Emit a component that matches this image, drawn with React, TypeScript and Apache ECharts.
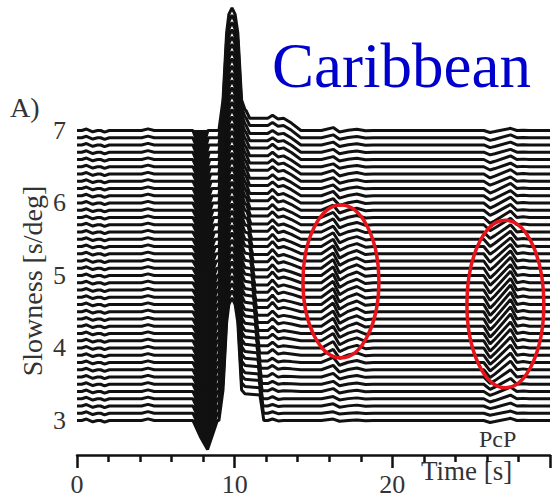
import React, { useEffect, useRef } from "react";
import * as echarts from "echarts";

// Slowness of each trace (s/deg), bottom to top
const slowness = [
  3.0, 3.1, 3.2, 3.3, 3.4, 3.5, 3.6, 3.7, 3.8, 3.9,
  4.0, 4.1, 4.2, 4.3, 4.4, 4.5, 4.6, 4.7, 4.8, 4.9,
  5.0, 5.1, 5.2, 5.3, 5.4, 5.5, 5.6, 5.7, 5.8, 5.9,
  6.0, 6.1, 6.2, 6.3, 6.4, 6.5, 6.6, 6.7, 6.8, 6.9, 7.0,
];
const yTicks = [3, 4, 5, 6, 7];
const xTicks = [0, 10, 20];

// Shared waveform pieces: [time s, amplitude in slowness units]
const earlyWiggle = [
  [0, 0], [0.3, 0], [0.6, 0.02], [1.0, -0.018], [1.3, 0], [1.5, 0], [1.75, -0.022],
  [2.05, 0], [4.1, 0], [4.5, 0.022], [4.9, 0], [7.35, 0],
];
const mainSpike = [
  [9.0, 0], [9.26, 0.42], [9.49, 1.35], [9.63, 1.6], [9.83, 1.69],
  [10.03, 1.6], [10.2, 1.35], [10.44, 0.42],
];
const arrival1Shape = [[15.5, 0], [16.25, 1], [16.65, -0.55], [17.2, 0.05], [17.75, 0.4], [18.3, -0.1], [18.8, 0]];
const pcpShape = [[25.8, 0], [26.2, -0.9], [26.5, -0.5], [27.5, 1.0], [27.9, 0], [28.3, 0.1], [28.7, 0]];

// Per-trace values (same order as slowness)
const dipDepth = [
  0.40, 0.40, 0.40, 0.39, 0.39, 0.39, 0.38, 0.38, 0.38, 0.37,
  0.37, 0.37, 0.36, 0.36, 0.36, 0.35, 0.35, 0.35, 0.35, 0.34,
  0.34, 0.34, 0.33, 0.33, 0.33, 0.32, 0.32, 0.32, 0.32, 0.31,
  0.31, 0.31, 0.31, 0.30, 0.30, 0.30, 0.30, 0.30, 0.30, 0.30, 0.30,
];
const dipEnd = [
  8.90, 8.90, 8.90, 8.90, 8.90, 8.90, 8.90, 8.90, 8.90, 8.90,
  8.90, 8.90, 8.90, 8.90, 8.90, 8.90, 8.90, 8.90, 8.90, 8.90,
  8.90, 8.87, 8.84, 8.81, 8.78, 8.75, 8.72, 8.69, 8.66, 8.63,
  8.60, 8.57, 8.54, 8.51, 8.48, 8.45, 8.42, 8.39, 8.36, 8.33, 8.30,
];
const plateau = [
  0.37, 0.37, 0.37, 0.36, 0.36, 0.36, 0.35, 0.35, 0.35, 0.34,
  0.34, 0.34, 0.33, 0.33, 0.33, 0.32, 0.32, 0.32, 0.31, 0.31,
  0.31, 0.31, 0.30, 0.30, 0.30, 0.30, 0.30, 0.29, 0.29, 0.29,
  0.29, 0.29, 0.29, 0.29, 0.29, 0.29, 0.29, 0.29, 0.29, 0.29, 0.29,
];
const dropTime = [
  11.70, 11.68, 11.65, 11.62, 11.60, 11.57, 11.54, 11.50, 11.47, 11.44,
  11.40, 11.37, 11.34, 11.30, 11.27, 11.24, 11.20, 11.17, 11.14, 11.10,
  11.07, 11.04, 11.00, 10.97, 10.94, 10.90, 10.88, 10.86, 10.84, 10.82,
  10.80, 10.80, 10.80, 10.80, 10.80, 10.80, 10.80, 10.80, 10.80, 10.80, 10.80,
];
const coda = [
  0.00, 0.00, 0.00, 0.00, 0.01, 0.01, 0.01, 0.02, 0.02, 0.03,
  0.03, 0.04, 0.04, 0.05, 0.05, 0.06, 0.06, 0.07, 0.07, 0.08,
  0.08, 0.09, 0.09, 0.10, 0.10, 0.11, 0.11, 0.12, 0.12, 0.13,
  0.13, 0.14, 0.14, 0.15, 0.15, 0.15, 0.16, 0.16, 0.16, 0.17, 0.17,
];
const bump12 = [
  0.02, 0.02, 0.02, 0.03, 0.03, 0.03, 0.04, 0.04, 0.04, 0.05,
  0.05, 0.05, 0.06, 0.06, 0.06, 0.07, 0.07, 0.07, 0.07, 0.07,
  0.07, 0.07, 0.07, 0.07, 0.07, 0.07, 0.06, 0.06, 0.06, 0.06,
  0.06, 0.05, 0.05, 0.05, 0.05, 0.05, 0.05, 0.04, 0.04, 0.04, 0.04,
];
const arrival1 = [
  0.02, 0.02, 0.03, 0.03, 0.04, 0.04, 0.05, 0.06, 0.07, 0.08,
  0.09, 0.10, 0.10, 0.11, 0.11, 0.12, 0.12, 0.12, 0.12, 0.12,
  0.12, 0.12, 0.11, 0.11, 0.10, 0.09, 0.08, 0.08, 0.07, 0.07,
  0.06, 0.06, 0.05, 0.05, 0.05, 0.04, 0.04, 0.04, 0.04, 0.04, 0.04,
];
const pcpAmp = [
  0.03, 0.03, 0.04, 0.05, 0.06, 0.08, 0.10, 0.12, 0.13, 0.14,
  0.15, 0.16, 0.16, 0.17, 0.17, 0.17, 0.17, 0.17, 0.16, 0.16,
  0.15, 0.15, 0.14, 0.13, 0.12, 0.11, 0.10, 0.09, 0.09, 0.08,
  0.08, 0.07, 0.07, 0.06, 0.06, 0.05, 0.05, 0.04, 0.04, 0.04, 0.03,
];

// Annotation ellipses: [center time, center slowness, half-width s, half-height]
const ellipses = [
  [16.74, 4.917, 2.41, 1.055],
  [27.17, 4.607, 2.44, 1.155],
];

const FONT = "'Liberation Serif', 'Times New Roman', serif";
const DIP_START = 7.35;

function dipPoints(i: number): number[][] {
  const span = dipEnd[i] - DIP_START;
  return [
    [DIP_START, 0],
    [DIP_START + 0.3 * span, -0.55 * dipDepth[i]],
    [DIP_START + 0.6 * span, -dipDepth[i]],
    [dipEnd[i], 0],
  ];
}

function tracePoints(i: number): number[][] {
  const s = slowness[i];
  const pts: number[][] = [];
  const add = (t: number, a: number) => pts.push([t, s + a]);
  earlyWiggle.forEach(([t, a]) => add(t, a));
  dipPoints(i).slice(1).forEach(([t, a]) => add(t, a));
  mainSpike.forEach(([t, a]) => add(t, a));
  add(10.65, plateau[i]);
  add(Math.max(dropTime[i] - 0.1, 10.72), plateau[i] * 0.95);
  add(dropTime[i] + 0.15, coda[i]);
  add(12.1, coda[i]);
  add(12.4, coda[i] + bump12[i]);
  add(12.75, coda[i] - 0.3 * bump12[i]);
  add(13.1, coda[i]);
  add(13.6, coda[i] * 0.6);
  add(14.2, 0);
  arrival1Shape.forEach(([t, a]) => add(t, a * arrival1[i]));
  pcpShape.forEach(([t, a]) => add(t, a * pcpAmp[i]));
  add(30, 0);
  return pts;
}

export default function App() {
  const ref = useRef<HTMLDivElement>(null);
  useEffect(() => {
    if (!ref.current) return;
    const chart = echarts.init(ref.current, null, { renderer: "svg" });
    const lineSeries = slowness.map((s, i) => ({
      type: "line",
      data: tracePoints(i),
      showSymbol: false,
      symbol: "none",
      lineStyle: { color: "#111", width: 3 },
      z: 2,
      silent: true,
    }));
    const option: any = {
      animation: false,
      grid: { left: 77, right: 3, top: 1, height: 454 },
      xAxis: {
        type: "value",
        min: 0,
        max: 30,
        interval: 10,
        axisLine: { lineStyle: { color: "#111", width: 2.5 } },
        axisTick: { length: 13, lineStyle: { color: "#111", width: 2.5 } },
        minorTick: { show: true, splitNumber: 5, length: 7, lineStyle: { color: "#111", width: 2.5 } },
        splitLine: { show: false },
        axisLabel: {
          margin: 16,
          fontSize: 26,
          fontFamily: FONT,
          color: "#333",
          formatter: (v: number) => (xTicks.indexOf(v) >= 0 ? String(v) : ""),
        },
      },
      yAxis: {
        type: "value",
        min: 2.524,
        max: 8.786,
        axisLine: { show: false },
        axisTick: { show: false },
        splitLine: { show: false },
        axisLabel: {
          customValues: yTicks,
          margin: 11,
          fontSize: 26,
          fontFamily: FONT,
          color: "#333",
          formatter: (v: number) => String(Math.round(v)),
        },
      },
      series: [
        ...lineSeries,
        {
          type: "custom",
          silent: true,
          z: 3,
          data: slowness.map((s) => [DIP_START, s]),
          renderItem: (params: any, api: any) => {
            const i = params.dataIndex;
            const s = slowness[i];
            const points = dipPoints(i).map(([t, a]) => api.coord([t, s + a]));
            return { type: "polygon", shape: { points }, style: { fill: "#111", stroke: "#111", lineWidth: 1 } };
          },
        },
        {
          type: "custom",
          silent: true,
          clip: false,
          z: 5,
          data: ellipses,
          renderItem: (params: any, api: any) => {
            const c = api.coord([api.value(0), api.value(1)]);
            const size = api.size([api.value(2), api.value(3)]);
            return {
              type: "ellipse",
              shape: { cx: c[0], cy: c[1], rx: size[0], ry: size[1] },
              style: { fill: "none", stroke: "#e8141b", lineWidth: 3.5 },
            };
          },
        },
      ],
      graphic: [
        { type: "text", left: 10, top: 93, style: { text: "A)", font: `28px ${FONT}`, fill: "#333" } },
        { type: "text", left: 272, top: 34, style: { text: "Caribbean", font: `63px ${FONT}`, fill: "#0000cc" } },
        { type: "text", left: 479, top: 427, style: { text: "PcP", font: `24px ${FONT}`, fill: "#333" } },
        { type: "text", left: 421, top: 457, style: { text: "Time [s]", font: `27px ${FONT}`, fill: "#333" } },
        {
          type: "text",
          x: 32,
          y: 281,
          rotation: Math.PI / 2,
          style: { text: "Slowness [s/deg]", font: `28px ${FONT}`, fill: "#333", align: "center", verticalAlign: "middle" },
        },
      ],
    };
    chart.setOption(option);
    return () => chart.dispose();
  }, []);
  return (
    <div
      ref={ref}
      style={{ position: "fixed", left: 0, top: 0, width: 553, height: 501, background: "#fff" }}
    />
  );
}
